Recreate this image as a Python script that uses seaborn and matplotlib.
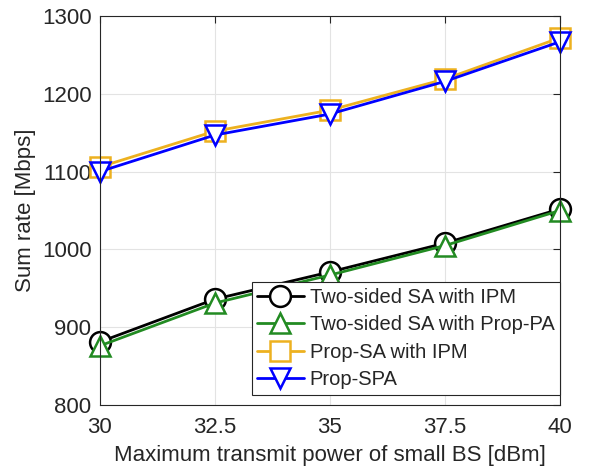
import numpy as np
import pandas as pd
import matplotlib
matplotlib.use("Agg")
import matplotlib.pyplot as plt
import seaborn as sns

# =========================
# Data
# =========================
power = [30, 32.5, 35, 37.5, 40]
two_sided_ipm = [881, 936, 971, 1008, 1052]
two_sided_proppa = [876, 931, 967, 1005, 1050]
prop_sa_ipm = [1106, 1152, 1179, 1219, 1272]
prop_spa = [1100, 1147, 1174, 1216, 1267]

names = ["Two-sided SA with IPM", "Two-sided SA with Prop-PA",
         "Prop-SA with IPM", "Prop-SPA"]
series = [two_sided_ipm, two_sided_proppa, prop_sa_ipm, prop_spa]
colors = ["#000000", "#228B22", "#EDB120", "#0000FF"]
marker_list = ["o", "^", "s", "v"]

df = pd.DataFrame({
    "power": np.tile(power, len(names)),
    "rate": np.concatenate(series),
    "scheme": np.repeat(names, len(power)),
})

# =========================
# Plot
# =========================
sns.set_style("white")
plt.rcParams["font.family"] = ["Liberation Sans", "DejaVu Sans"]

fig = plt.figure(figsize=(6.12, 4.72), dpi=100)
ax = fig.add_axes([0.163, 0.142, 0.752, 0.824])

sns.lineplot(data=df, x="power", y="rate", hue="scheme", style="scheme",
             hue_order=names, style_order=names,
             palette=dict(zip(names, colors)),
             markers=dict(zip(names, marker_list)), dashes=False,
             markersize=15, markeredgewidth=1.8,
             linewidth=2, ax=ax)

# open markers with coloured edges, like the MATLAB original
for line in ax.lines:
    line.set_markerfacecolor("white")
    line.set_markeredgecolor(line.get_color())
    line.set_clip_on(False)

ax.set_xlim(30, 40)
ax.set_ylim(800, 1300)
ax.set_xticks(power)
ax.set_xticklabels(["30", "32.5", "35", "37.5", "40"])
ax.set_yticks(range(800, 1301, 100))
ax.grid(True, color="#e3e3e3", linewidth=0.8)
ax.set_axisbelow(True)
ax.tick_params(direction="in", length=5, top=True, right=True,
               labelsize=16, colors="#262626")
ax.tick_params(axis="x", pad=9)
ax.tick_params(axis="y", pad=6)
for s in ax.spines.values():
    s.set_color("#262626")
    s.set_linewidth(0.8)

ax.set_xlabel("Maximum transmit power of small BS [dBm]", fontsize=16,
              color="#262626", labelpad=5)
ax.set_ylabel("Sum rate [Mbps]", fontsize=16, color="#262626", labelpad=4)

handles, labels = ax.get_legend_handles_labels()
for h in handles:
    h.set_markerfacecolor("white")
    h.set_markeredgecolor(h.get_color())
leg = ax.legend(handles, labels, loc="lower right",
                bbox_to_anchor=(1.0, 0.026), fontsize=14.5, frameon=True,
                fancybox=False, edgecolor="#262626", framealpha=1,
                handlelength=2.3, handletextpad=0.3, borderpad=0.28,
                labelspacing=0.42, borderaxespad=0)
leg.get_frame().set_linewidth(0.8)

fig.savefig("out.png", dpi=100)
